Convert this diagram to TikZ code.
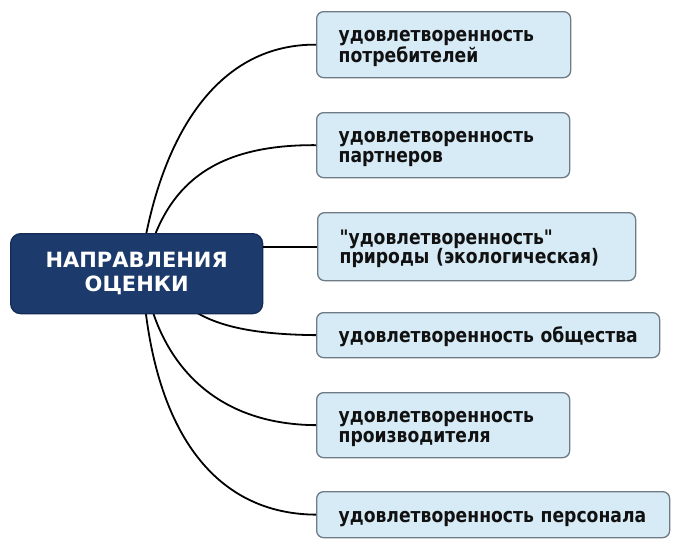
\documentclass[tikz,border=0pt]{standalone}
\usepackage{fontspec}
\setmainfont{DejaVu Sans}
\newfontfamily\leaffont[FakeStretch=0.86]{DejaVu Sans}
\usetikzlibrary{calc}
\definecolor{navy}{HTML}{1C3A6B}
\definecolor{navyedge}{HTML}{142C55}
\definecolor{boxfill}{HTML}{D7EBF7}
\definecolor{boxedge}{HTML}{6E7A84}
\definecolor{ink}{HTML}{111111}
\newcommand\leafTop{\rule{0pt}{19.5pt}}
\newcommand\leafBot{\rule[-5pt]{0pt}{5pt}}
\newcommand\leafOne{\rule[-5pt]{0pt}{25pt}}
\tikzset{
  leafbox/.style={draw=boxedge, line width=1.3pt, fill=boxfill, rounded corners=7pt,
    anchor=north west, inner xsep=22pt, inner ysep=0pt, align=left,
    font=\leaffont\bfseries\fontsize{20}{19.5}\selectfont, text=ink},
  rootbox/.style={draw=navyedge, line width=1.3pt, fill=navy, rounded corners=10pt,
    anchor=north west, inner sep=0pt, align=center, text=white,
    minimum width=252pt, minimum height=80pt,
    font=\bfseries\fontsize{21}{24}\selectfont},
  link/.style={draw=black, line width=1.8pt}
}
\begin{document}
\begin{tikzpicture}[x=1pt,y=-1pt]
\useasboundingbox (0,0) rectangle (681,549);
% connector origins on the central box
\coordinate (t1) at (145,240);
\coordinate (t2) at (153,240);
\coordinate (s4) at (187,306);
\coordinate (s5) at (151,306);
\coordinate (s6) at (145,306);
% leaf boxes
\node[leafbox, text width=210pt, minimum height=66pt] (b1) at (316,11)
  {\mbox{\leafTop удовлетворенность}\\\mbox{потребителей\leafBot}};
\node[leafbox, text width=209pt, minimum height=65pt] (b2) at (316,112)
  {\mbox{\leafTop удовлетворенность}\\\mbox{партнеров\leafBot}};
\node[leafbox, text width=274pt, minimum height=68pt] (b3) at (317,212)
  {\mbox{\leafTop\char34\relax удовлетворенность\char34\relax}\\\mbox{природы (экологическая)\leafBot}};
\node[leafbox, text width=299pt, minimum height=45pt] (b4) at (316,312)
  {\mbox{\leafOne удовлетворенность общества}};
\node[leafbox, text width=209pt, minimum height=65pt] (b5) at (316,392)
  {\mbox{\leafTop удовлетворенность}\\\mbox{производителя\leafBot}};
\node[leafbox, text width=309pt, minimum height=46pt] (b6) at (316,491)
  {\mbox{\leafOne удовлетворенность персонала}};
% connectors (drawn before the central box so it covers their ends)
\draw[link] (t1) .. controls (166,130) and (220,44) .. (b1.west);
\draw[link] (t2) .. controls (175,180) and (220,144.5) .. (b2.west);
\draw[link] (s4) .. controls (215,328) and (260,334.5) .. (b4.west);
\draw[link] (s5) .. controls (170,370) and (220,424.5) .. (b5.west);
\draw[link] (s6) .. controls (160,440) and (220,514) .. (b6.west);
% central box
\node[rootbox] (c) at (10,233) {НАПРАВЛЕНИЯ\\ОЦЕНКИ};
\draw[link] (c.east |- b3.west) -- (b3.west);
\end{tikzpicture}
\end{document}
